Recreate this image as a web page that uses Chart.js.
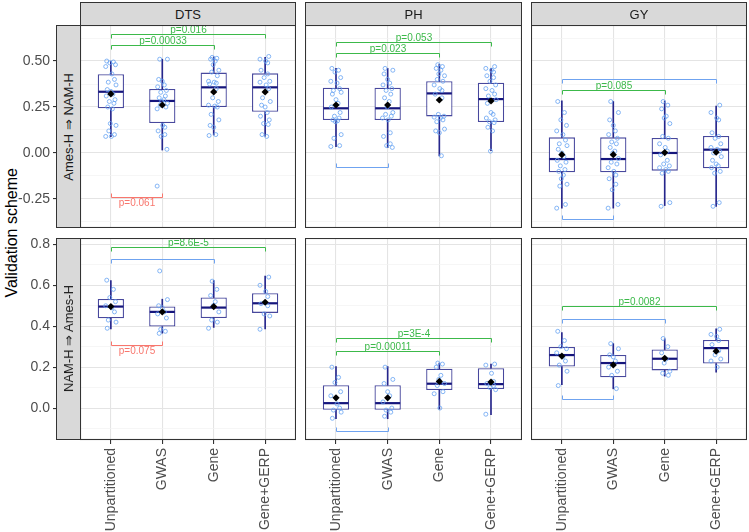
<!DOCTYPE html>
<html>
<head>
<meta charset="utf-8">
<script src="https://cdn.jsdelivr.net/npm/chart.js@4.4.1/dist/chart.umd.min.js"></script>
<style>
  body { margin: 0; background: #fff; }
  #fig { position: relative; width: 749px; height: 532px; overflow: hidden; font-family: "Liberation Sans", Arial, sans-serif; }
  .strip { position: absolute; box-sizing: border-box; background: #d9d9d9; border: 1px solid #333; color: #1a1a1a; font-size: 13px; display: flex; align-items: center; justify-content: center; z-index: 2; }
  .vert { writing-mode: vertical-rl; transform: rotate(180deg); white-space: nowrap; }
  #ytitle { position: absolute; left: 2px; top: 25px; width: 20px; height: 415px; display: flex; align-items: center; justify-content: center; font-size: 16px; color: #000; }
</style>
</head>
<body>
<div id="fig">
  <div id="ytitle"><span class="vert">Validation scheme</span></div>
</div>
<script>
const schemes = ['Unpartitioned', 'GWAS', 'Gene', 'Gene+GERP'];
const traits = ['DTS', 'PH', 'GY'];
const directions = ['Ames-H ⇒ NAM-H', 'NAM-H ⇒ Ames-H'];

const yRangeTop = [-0.408, 0.696];
const yTicksTop = [-0.25, 0, 0.25, 0.5];
const yLabelsTop = ['-0.25', '0.00', '0.25', '0.50'];
const yRangeBottom = [-0.156, 0.831];
const yTicksBottom = [0, 0.2, 0.4, 0.6, 0.8];
const yLabelsBottom = ['0.0', '0.2', '0.4', '0.6', '0.8'];

// per scheme: [lower whisker, q1, median, q3, upper whisker, mean]
const boxAmesDTS = [[0.089, 0.243, 0.333, 0.428, 0.50, 0.321], [0.016, 0.163, 0.283, 0.348, 0.51, 0.261], [0.098, 0.25, 0.357, 0.437, 0.523, 0.332], [0.091, 0.224, 0.357, 0.433, 0.52, 0.332]];
const boxAmesPH = [[0.034, 0.179, 0.243, 0.355, 0.46, 0.261], [0.029, 0.179, 0.243, 0.355, 0.46, 0.261], [-0.016, 0.199, 0.324, 0.39, 0.482, 0.288], [0.013, 0.168, 0.293, 0.382, 0.46, 0.283]];
const boxAmesGY = [[-0.30, -0.105, -0.033, 0.085, 0.283, -0.009], [-0.30, -0.105, -0.033, 0.085, 0.28, -0.009], [-0.286, -0.096, 0.0, 0.082, 0.283, 0.002], [-0.29, -0.083, 0.018, 0.092, 0.255, 0.004]];
const boxNamDTS = [[0.387, 0.439, 0.496, 0.533, 0.623, 0.496], [0.366, 0.398, 0.47, 0.496, 0.532, 0.47], [0.394, 0.44, 0.491, 0.54, 0.623, 0.496], [0.387, 0.465, 0.512, 0.561, 0.645, 0.517]];
const boxNamPH = [[-0.052, -0.008, 0.024, 0.112, 0.203, 0.05], [-0.052, -0.008, 0.024, 0.112, 0.203, 0.05], [-0.005, 0.088, 0.119, 0.192, 0.22, 0.13], [-0.032, 0.093, 0.117, 0.195, 0.215, 0.127]];
const boxNamGY = [[0.114, 0.203, 0.259, 0.299, 0.369, 0.254], [0.094, 0.15, 0.22, 0.259, 0.315, 0.211], [0.156, 0.184, 0.241, 0.286, 0.338, 0.243], [0.176, 0.218, 0.293, 0.333, 0.387, 0.278]];

// individual validation accuracies per scheme
const ptsAmesDTS = [
  [0.50, 0.495, 0.49, 0.48, 0.47, 0.43, 0.40, 0.385, 0.37, 0.345, 0.335, 0.32, 0.31, 0.29, 0.28, 0.27, 0.25, 0.24, 0.16, 0.15, 0.12, 0.10, 0.09, 0.09],
  [0.51, 0.51, 0.40, 0.39, 0.37, 0.36, 0.34, 0.33, 0.31, 0.30, 0.29, 0.28, 0.27, 0.26, 0.25, 0.24, 0.15, 0.14, 0.12, 0.10, 0.09, 0.02, -0.18],
  [0.52, 0.515, 0.51, 0.50, 0.48, 0.45, 0.44, 0.42, 0.39, 0.385, 0.38, 0.375, 0.35, 0.30, 0.28, 0.26, 0.255, 0.25, 0.21, 0.18, 0.15, 0.14, 0.10, 0.095],
  [0.525, 0.51, 0.50, 0.49, 0.45, 0.43, 0.41, 0.39, 0.385, 0.37, 0.35, 0.30, 0.28, 0.26, 0.25, 0.22, 0.20, 0.18, 0.16, 0.155, 0.10, 0.09]
];
const ptsAmesPH = [
  [0.46, 0.45, 0.44, 0.41, 0.39, 0.38, 0.35, 0.34, 0.33, 0.32, 0.29, 0.27, 0.25, 0.22, 0.20, 0.19, 0.18, 0.175, 0.17, 0.10, 0.08, 0.04, 0.035],
  [0.46, 0.45, 0.43, 0.40, 0.38, 0.37, 0.35, 0.34, 0.32, 0.30, 0.28, 0.25, 0.22, 0.21, 0.20, 0.19, 0.18, 0.11, 0.09, 0.05, 0.04, 0.03],
  [0.48, 0.47, 0.46, 0.45, 0.43, 0.42, 0.40, 0.39, 0.37, 0.35, 0.34, 0.32, 0.30, 0.21, 0.20, 0.195, 0.19, 0.18, 0.17, 0.13, 0.12, 0.11, -0.015],
  [0.47, 0.46, 0.45, 0.44, 0.42, 0.41, 0.39, 0.37, 0.35, 0.34, 0.32, 0.31, 0.29, 0.27, 0.22, 0.21, 0.19, 0.18, 0.17, 0.165, 0.14, 0.12, 0.01]
];
const ptsAmesGY = [
  [0.28, 0.22, 0.18, 0.15, 0.12, 0.10, 0.07, 0.05, 0.04, 0.02, 0.0, -0.02, -0.04, -0.05, -0.07, -0.09, -0.10, -0.12, -0.14, -0.17, -0.18, -0.28, -0.30],
  [0.28, 0.22, 0.18, 0.15, 0.12, 0.10, 0.08, 0.06, 0.05, 0.03, 0.01, 0.0, -0.03, -0.05, -0.06, -0.08, -0.10, -0.12, -0.14, -0.17, -0.20, -0.28, -0.30],
  [0.28, 0.26, 0.24, 0.20, 0.19, 0.16, 0.09, 0.08, 0.05, 0.03, 0.01, -0.01, -0.04, -0.06, -0.07, -0.08, -0.09, -0.10, -0.11, -0.27, -0.29],
  [0.26, 0.22, 0.19, 0.18, 0.11, 0.09, 0.08, 0.05, 0.03, 0.02, 0.01, 0.0, -0.02, -0.04, -0.06, -0.07, -0.08, -0.10, -0.11, -0.27, -0.29]
];
const ptsNamDTS = [
  [0.625, 0.58, 0.54, 0.52, 0.50, 0.49, 0.47, 0.43, 0.42, 0.39],
  [0.67, 0.53, 0.50, 0.49, 0.47, 0.46, 0.44, 0.385, 0.375, 0.365],
  [0.62, 0.58, 0.55, 0.52, 0.50, 0.47, 0.43, 0.42, 0.39],
  [0.64, 0.60, 0.57, 0.545, 0.51, 0.50, 0.46, 0.45, 0.385]
];
const ptsNamPH = [
  [0.20, 0.15, 0.125, 0.08, 0.06, 0.02, 0.0, -0.01, -0.02, -0.05],
  [0.20, 0.14, 0.12, 0.08, 0.06, 0.03, 0.0, -0.01, -0.02, -0.04],
  [0.22, 0.215, 0.20, 0.16, 0.14, 0.12, 0.11, 0.08, 0.07, 0.0],
  [0.215, 0.21, 0.17, 0.13, 0.12, 0.11, 0.10, 0.09, -0.03]
];
const ptsNamGY = [
  [0.375, 0.33, 0.30, 0.29, 0.27, 0.25, 0.23, 0.21, 0.18, 0.11],
  [0.315, 0.29, 0.26, 0.25, 0.23, 0.20, 0.18, 0.16, 0.095],
  [0.34, 0.30, 0.27, 0.24, 0.22, 0.18, 0.17, 0.16],
  [0.385, 0.36, 0.35, 0.33, 0.31, 0.28, 0.26, 0.24, 0.23, 0.20]
];

// pairwise tests vs Unpartitioned: schemes a-b, bracket height, result, label
const sigAmesDTS = [{a: 1, b: 4, y: 0.645, res: 'up', p: 'p=0.016'}, {a: 1, b: 3, y: 0.587, res: 'up', p: 'p=0.00033'}, {a: 1, b: 2, y: -0.237, res: 'down', p: 'p=0.061', below: true}];
const sigAmesPH = [{a: 1, b: 4, y: 0.602, res: 'up', p: 'p=0.053'}, {a: 1, b: 3, y: 0.545, res: 'up', p: 'p=0.023'}, {a: 1, b: 2, y: -0.074, res: 'ns', p: '', below: true}];
const sigAmesGY = [{a: 1, b: 4, y: 0.40, res: 'ns', p: ''}, {a: 1, b: 3, y: 0.342, res: 'up', p: 'p=0.085'}, {a: 1, b: 2, y: -0.359, res: 'ns', p: '', below: true}];
const sigNamDTS = [{a: 1, b: 4, y: 0.787, res: 'up', p: 'p=8.6E-5'}, {a: 1, b: 3, y: 0.730, res: 'ns', p: ''}, {a: 1, b: 2, y: 0.307, res: 'down', p: 'p=0.075', below: true}];
const sigNamPH = [{a: 1, b: 4, y: 0.34, res: 'up', p: 'p=3E-4'}, {a: 1, b: 3, y: 0.278, res: 'up', p: 'p=0.00011'}, {a: 1, b: 2, y: -0.11, res: 'ns', p: '', below: true}];
const sigNamGY = [{a: 1, b: 4, y: 0.50, res: 'up', p: 'p=0.0082'}, {a: 1, b: 3, y: 0.437, res: 'ns', p: ''}, {a: 1, b: 2, y: 0.042, res: 'ns', p: '', below: true}];

const panels = [
  {row: 0, col: 0, box: boxAmesDTS, pts: ptsAmesDTS, sig: sigAmesDTS},
  {row: 0, col: 1, box: boxAmesPH, pts: ptsAmesPH, sig: sigAmesPH},
  {row: 0, col: 2, box: boxAmesGY, pts: ptsAmesGY, sig: sigAmesGY},
  {row: 1, col: 0, box: boxNamDTS, pts: ptsNamDTS, sig: sigNamDTS},
  {row: 1, col: 1, box: boxNamPH, pts: ptsNamPH, sig: sigNamPH},
  {row: 1, col: 2, box: boxNamGY, pts: ptsNamGY, sig: sigNamGY}
];

// layout
const colX = [80, 305, 531], colW = [216, 217, 216];
const rowY = [25, 238], rowH = [203, 202];
const AXIS_W = 80, AXIS_H = 92;

const NAVY = '#15157c';
const WHISKER = '#26268c';
const BOX_LINE = 'rgba(40,40,140,0.85)';
const PT = '#67a3f3';
const SIG_COLORS = {up: '#3cb94a', down: '#f8766d', ns: '#6fa3f0'};
const JITTER = [-0.08, 0.05, -0.02, 0.09, -0.1, 0.02, 0.07, -0.05, 0.1, -0.07, 0.0, 0.04, -0.09, 0.08, -0.03, 0.06, -0.06, 0.03, -0.01, 0.1, -0.04, 0.07, -0.1, 0.01, 0.05];

Chart.defaults.font.family = '"Liberation Sans", Arial, sans-serif';

const fig = document.getElementById('fig');

const panelFrame = {
    id: 'panelFrame',
    afterDraw(chart) {
        const {ctx, chartArea: a} = chart;
        ctx.save();
        ctx.strokeStyle = '#333';
        ctx.lineWidth = 1.1;
        ctx.strokeRect(a.left + 0.5, a.top + 0.5, a.right - a.left - 1, a.bottom - a.top - 1);
        ctx.restore();
    }
};

const sigBrackets = {
    id: 'sigBrackets',
    afterDatasetsDraw(chart, args, opts) {
        const {ctx} = chart;
        const xs = chart.scales.x, ys = chart.scales.y;
        ctx.save();
        ctx.lineWidth = 1;
        ctx.font = '10px "Liberation Sans", Arial, sans-serif';
        ctx.textAlign = 'center';
        opts.items.forEach(s => {
            const x1 = Math.round(xs.getPixelForValue(s.a)) + 0.5;
            const x2 = Math.round(xs.getPixelForValue(s.b)) + 0.5;
            const y = Math.round(ys.getPixelForValue(s.y)) + 0.5;
            const d = s.below ? -4 : 4;
            const color = SIG_COLORS[s.res];
            ctx.strokeStyle = color;
            ctx.beginPath();
            ctx.moveTo(x1, y + d);
            ctx.lineTo(x1, y);
            ctx.lineTo(x2, y);
            ctx.lineTo(x2, y + d);
            ctx.stroke();
            if (s.p) {
                ctx.fillStyle = color;
                ctx.textBaseline = s.below ? 'top' : 'bottom';
                ctx.fillText(s.p, (x1 + x2) / 2, y + 1);
            }
        });
        ctx.restore();
    }
};

function nearly(a, b) {
    return Math.abs(a - b) < 1e-9;
}

// keep the plotting area fixed: no label overhang padding
function noPadding(s) {
    s.paddingTop = 0;
    s.paddingBottom = 0;
    s.paddingLeft = 0;
    s.paddingRight = 0;
}

function buildPanel(p) {
    const left = p.col === 0, bottom = p.row === 1;
    const range = p.row === 0 ? yRangeTop : yRangeBottom;
    const majors = p.row === 0 ? yTicksTop : yTicksBottom;
    const majorLabels = p.row === 0 ? yLabelsTop : yLabelsBottom;
    const step = majors[1] - majors[0];
    const minors = [majors[0] - step / 2].concat(majors.map(v => v + step / 2))
        .filter(v => v > range[0] && v < range[1]);
    const yTicks = majors.concat(minors).sort((a, b) => a - b);
    const isMajor = v => majors.some(m => nearly(m, v));

    const w = colW[p.col] + (left ? AXIS_W : 0);
    const h = rowH[p.row] + (bottom ? AXIS_H : 0);
    const canvas = document.createElement('canvas');
    canvas.width = w;
    canvas.height = h;
    canvas.style.cssText = `position:absolute;left:${left ? 0 : colX[p.col]}px;top:${rowY[p.row]}px;width:${w}px;height:${h}px;`;
    fig.appendChild(canvas);

    const points = [];
    p.pts.forEach((vals, i) => {
        vals.forEach((v, k) => {
            points.push({x: i + 1 + JITTER[(k + 7 * i) % JITTER.length], y: v});
        });
    });

    // whiskers: q1 down to lower end, q3 up to upper end
    const whiskers = [];
    p.box.forEach((b, i) => {
        whiskers.push({x: i + 1, y: [b[0], b[1]]});
        whiskers.push({x: i + 1, y: [b[3], b[4]]});
    });

    new Chart(canvas, {
        type: 'bar',
        data: {
            datasets: [
                {
                    label: 'whisker',
                    data: whiskers,
                    backgroundColor: WHISKER,
                    borderWidth: 0,
                    barThickness: 1,
                    grouped: false,
                    order: 5
                },
                {
                    label: 'box',
                    data: p.box.map((b, i) => ({x: i + 1, y: [b[1], b[3]]})),
                    backgroundColor: '#ffffff',
                    borderColor: BOX_LINE,
                    borderWidth: 1.3,
                    borderSkipped: false,
                    categoryPercentage: 1,
                    barPercentage: 0.51,
                    grouped: false,
                    order: 4
                },
                {
                    type: 'scatter',
                    label: 'median',
                    data: p.box.map((b, i) => ({x: i + 1, y: b[2]})),
                    pointStyle: 'line',
                    pointRadius: 12.5,
                    pointBorderWidth: 2.2,
                    pointBorderColor: NAVY,
                    order: 3
                },
                {
                    type: 'scatter',
                    label: 'accuracy',
                    data: points,
                    pointStyle: 'circle',
                    pointRadius: 2,
                    pointBorderWidth: 0.8,
                    pointBorderColor: PT,
                    pointBackgroundColor: 'rgba(0,0,0,0)',
                    order: 2
                },
                {
                    type: 'scatter',
                    label: 'mean',
                    data: p.box.map((b, i) => ({x: i + 1, y: b[5]})),
                    pointStyle: 'rectRot',
                    pointRadius: 3.6,
                    pointBackgroundColor: '#000',
                    pointBorderWidth: 0,
                    order: 1
                }
            ]
        },
        options: {
            responsive: false,
            animation: false,
            devicePixelRatio: 1,
            layout: {padding: 0, autoPadding: false},
            plugins: {
                legend: {display: false},
                tooltip: {enabled: false},
                sigBrackets: {items: p.sig}
            },
            scales: {
                x: {
                    type: 'linear',
                    min: 0.4,
                    max: 4.6,
                    offset: false,
                    afterBuildTicks: s => { s.ticks = schemes.map((_, i) => ({value: i + 1})); },
                    afterFit: s => { s.height = bottom ? AXIS_H : 0; noPadding(s); },
                    ticks: {
                        display: bottom,
                        autoSkip: false,
                        minRotation: 90,
                        maxRotation: 90,
                        padding: 4,
                        color: '#4d4d4d',
                        font: {size: 14},
                        callback: v => schemes[Math.round(v) - 1]
                    },
                    grid: {
                        offset: false,
                        color: '#e4e4e4',
                        lineWidth: 1.1,
                        drawTicks: bottom,
                        tickLength: 4,
                        tickColor: '#333'
                    },
                    border: {display: false}
                },
                y: {
                    type: 'linear',
                    min: range[0],
                    max: range[1],
                    afterBuildTicks: s => { s.ticks = yTicks.map(v => ({value: v})); },
                    afterFit: s => { s.width = left ? AXIS_W : 0; noPadding(s); },
                    ticks: {
                        display: left,
                        autoSkip: false,
                        padding: 3,
                        color: '#4d4d4d',
                        font: {size: 14},
                        callback: v => {
                            const i = majors.findIndex(m => nearly(m, v));
                            return i >= 0 ? majorLabels[i] : '';
                        }
                    },
                    grid: {
                        color: c => (c.tick && isMajor(c.tick.value)) ? '#e4e4e4' : '#f2f2f2',
                        lineWidth: c => (c.tick && isMajor(c.tick.value)) ? 1.1 : 0.7,
                        drawTicks: left,
                        tickLength: 27,
                        tickColor: c => (c.tick && isMajor(c.tick.value)) ? '#333' : 'rgba(0,0,0,0)'
                    },
                    border: {display: false}
                }
            }
        },
        plugins: [panelFrame, sigBrackets]
    });
}

panels.forEach(buildPanel);

// facet strips
traits.forEach((t, c) => {
    const el = document.createElement('div');
    el.className = 'strip';
    el.style.cssText = `left:${colX[c]}px;top:2px;width:${colW[c]}px;height:24px;`;
    el.textContent = t;
    fig.appendChild(el);
});
directions.forEach((d, r) => {
    const el = document.createElement('div');
    el.className = 'strip';
    el.style.cssText = `left:56px;top:${rowY[r]}px;width:25px;height:${rowH[r]}px;`;
    const span = document.createElement('span');
    span.className = 'vert';
    span.textContent = d;
    el.appendChild(span);
    fig.appendChild(el);
});
</script>
</body>
</html>
